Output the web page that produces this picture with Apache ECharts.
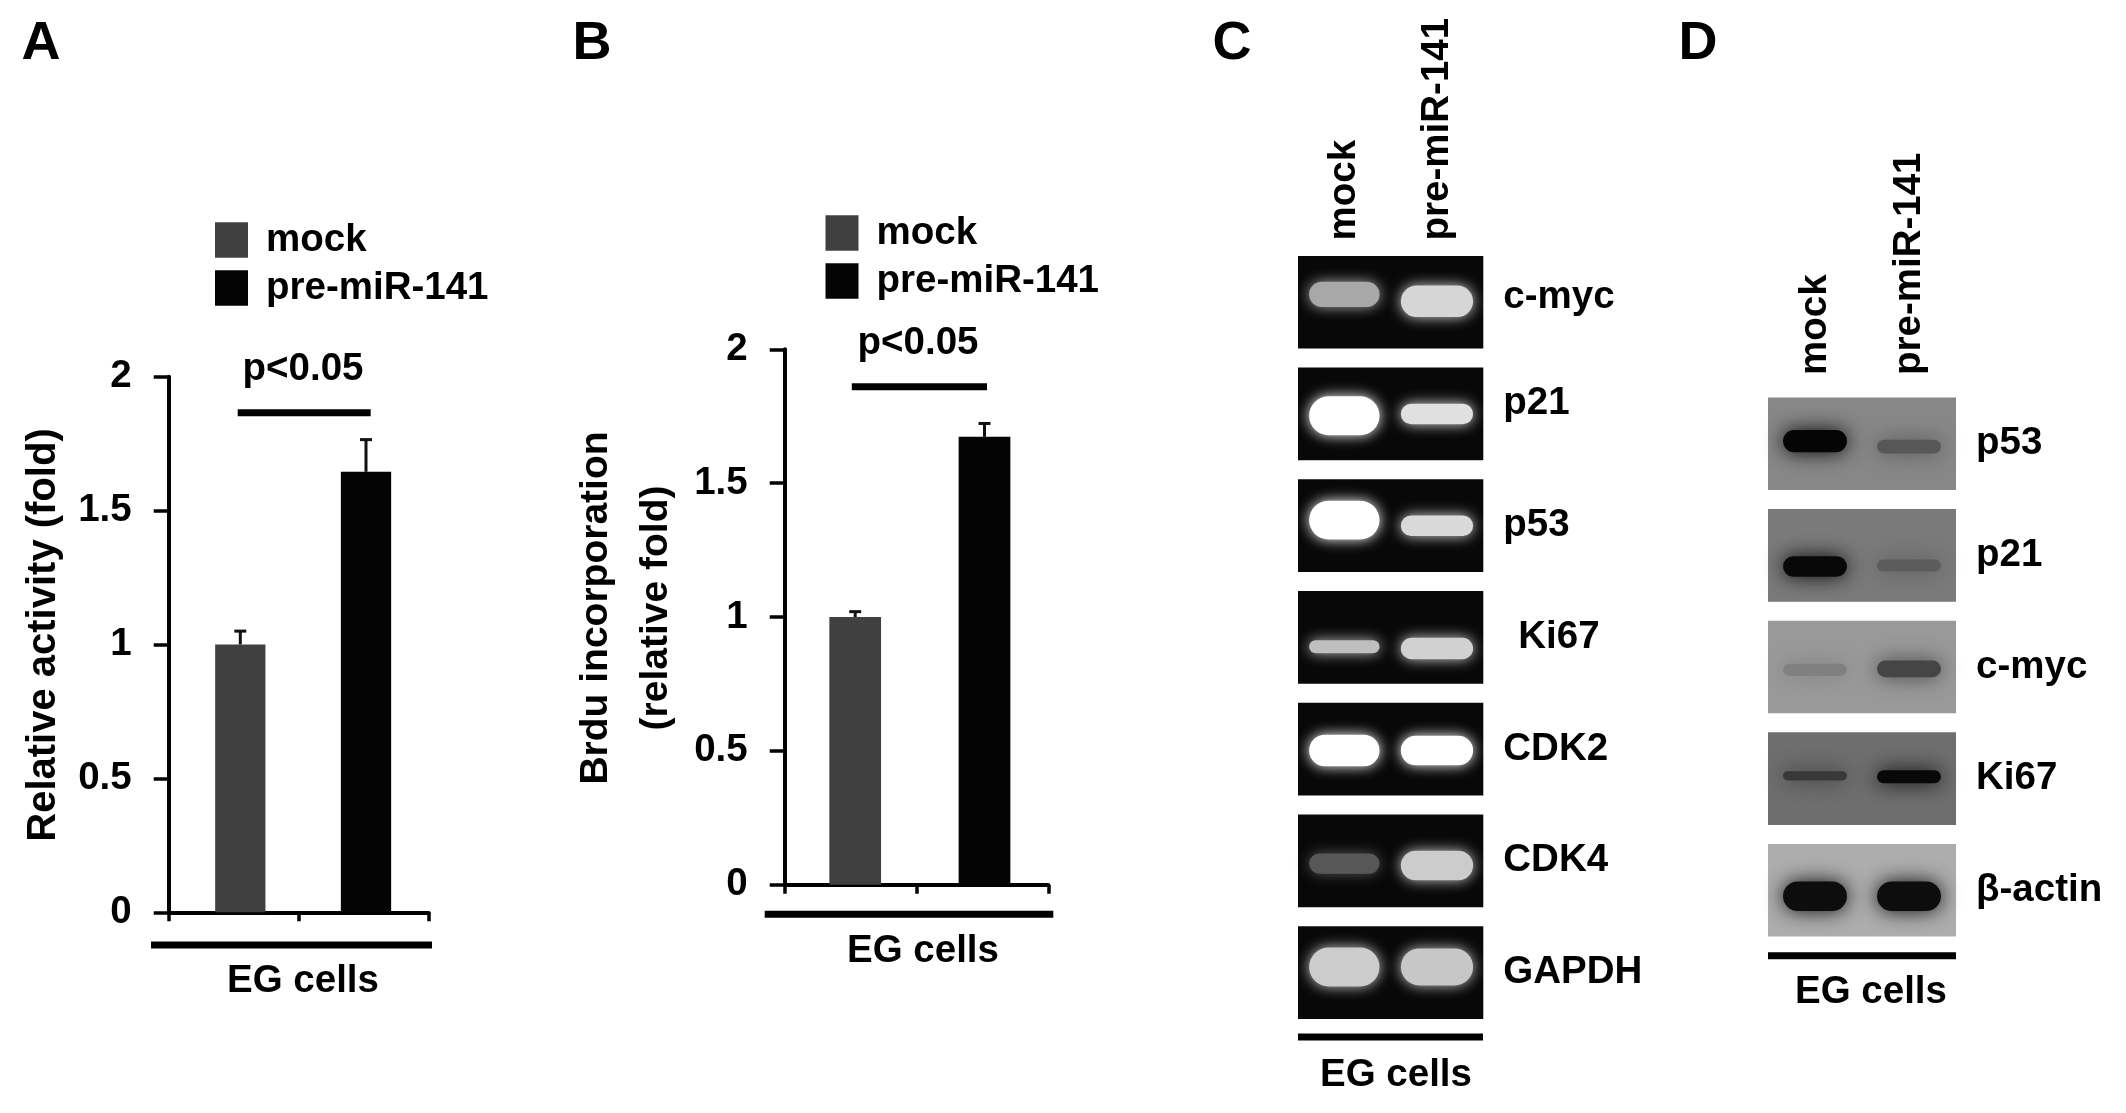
<!DOCTYPE html>
<html><head><meta charset="utf-8">
<style>html,body{margin:0;padding:0;background:#fff}#c{width:2126px;height:1113px}</style>
<script src="https://cdn.jsdelivr.net/npm/echarts@6/dist/echarts.min.js"></script>
</head><body><div id="c"></div>
<script>
// ---- data ----
const groups = ['mock', 'pre-miR-141'];
const yTicksMax = 2;
const activityMean = [1.0, 1.645];
const activityTop  = [1.05, 1.765];
const brduMean = [1.0, 1.673];
const brduTop  = [1.02, 1.723];

const genesC = ['c-myc','p21','p53','Ki67','CDK2','CDK4','GAPDH'];
const signalCmock = [0.66, 1.00, 1.00, 0.75, 1.00, 0.34, 0.80];
const signalCpre  = [0.84, 0.88, 0.85, 0.82, 1.00, 0.80, 0.78];
const bandCmock   = [0.27, 0.42, 0.42, 0.14, 0.34, 0.22, 0.42];
const bandCpre    = [0.34, 0.22, 0.22, 0.23, 0.32, 0.32, 0.40];
const driftCmock  = [-0.085, 0.02, -0.06, 0.10, 0.015, 0.03, -0.06];
const driftCpre   = [-0.01, 0.00, 0.00, 0.12, 0.015, 0.05, -0.06];

const genesD = ['p53','p21','c-myc','Ki67','β-actin'];
const signalDmock = [0.02, 0.03, 0.50, 0.22, 0.05];
const signalDpre  = [0.34, 0.36, 0.27, 0.03, 0.05];
const bandDmock   = [0.24, 0.22, 0.13, 0.10, 0.32];
const bandDpre    = [0.15, 0.13, 0.18, 0.14, 0.32];
const driftDmock  = [-0.03, 0.12, 0.03, -0.03, 0.065];
const driftDpre   = [0.03, 0.11, 0.02, -0.02, 0.065];
const backgroundD = [0.53, 0.48, 0.60, 0.43, 0.68];

// ---- styling ----
const FONT = 'Liberation Sans';
const font = (s) => `bold ${s}px "${FONT}"`;
const TS = 38.5;
const gray = (v) => { const g = Math.round(v * 255); return `rgb(${g},${g},${g})`; };

function barPair(ix, means) {
  return [
    { name:'mock', type:'bar', xAxisIndex:ix, yAxisIndex:ix, stack:'p'+ix, barWidth:'40%', itemStyle:{color:'#404040'}, data:[means[0], null] },
    { name:'pre-miR-141', type:'bar', xAxisIndex:ix, yAxisIndex:ix, stack:'p'+ix, barWidth:'40%', itemStyle:{color:'#040404'}, data:[null, means[1]] }
  ];
}
function errorSeries(ix, means, tops) {
  return {
    type:'custom', xAxisIndex:ix, yAxisIndex:ix, silent:true, z:1,
    data: means.map((m,i)=>[i,m,tops[i]]),
    encode:{x:0,y:[1,2]},
    renderItem(params, api) {
      const a = api.coord([api.value(0), api.value(1)]);
      const b = api.coord([api.value(0), api.value(2)]);
      const st = {stroke:'#111', lineWidth:3, fill:null};
      return {type:'group', children:[
        {type:'line', shape:{x1:a[0],y1:a[1],x2:b[0],y2:b[1]}, style:st},
        {type:'line', shape:{x1:b[0]-6,y1:b[1],x2:b[0]+6,y2:b[1]}, style:st}
      ]};
    }
  };
}
function blotBackground(ix, genes, levels) {
  return {
    type:'custom', xAxisIndex:ix, yAxisIndex:ix, silent:true, z:1,
    data: genes.map((g,i)=>[0,i,levels[i]]),
    encode:{x:0,y:1},
    renderItem(params, api) {
      const cs = params.coordSys;
      const c = api.coord([0, api.value(1)]);
      const h = api.size([0,1])[1] * 0.83;
      return {type:'rect', shape:{x:cs.x, y:c[1]-h/2, width:cs.width, height:h}, style:{fill:gray(api.value(2))}};
    }
  };
}
function blotBands(ix, genes, signal, thick, drift, lane, widthFrac, blur) {
  return {
    type:'custom', xAxisIndex:ix, yAxisIndex:ix, silent:true, z:2,
    data: genes.map((g,i)=>[lane,i,signal[i],thick[i],drift[i]]),
    encode:{x:0,y:1},
    renderItem(params, api) {
      const c = api.coord([api.value(0), api.value(1)]);
      const sz = api.size([1,1]);
      const blotH = sz[1]*0.83;
      const w = sz[0]*widthFrac;
      const h = blotH*api.value(3);
      const cy = c[1] + blotH*api.value(4);
      const col = gray(api.value(2));
      return {type:'rect',
        shape:{x:c[0]-w/2, y:cy-h/2, width:w, height:h, r:h/2},
        style:{fill:col, shadowColor:col, shadowBlur:blur}};
    }
  };
}

const barX = (ix)=>({type:'category', gridIndex:ix, data:groups,
  axisLine:{lineStyle:{color:'#000',width:4}}, axisTick:{show:true,length:9,lineStyle:{color:'#000',width:3.5}}, axisLabel:{show:false}});
const barY = (ix,name,gap,size,pad)=>({type:'value', gridIndex:ix, min:0, max:yTicksMax, interval:0.5, splitLine:{show:false},
  name:name, nameLocation:'middle', nameGap:gap, nameRotate:90,
  nameTextStyle:{fontFamily:FONT, fontWeight:'bold', fontSize:size, color:'#000', lineHeight:60, padding:pad},
  axisLine:{show:true,lineStyle:{color:'#000',width:4}}, axisTick:{show:true,length:15,lineStyle:{color:'#000',width:3.5}},
  axisLabel:{fontFamily:FONT,fontWeight:'bold',fontSize:TS,color:'#000',margin:37}});
const hiddenX = (ix)=>({type:'category', gridIndex:ix, data:groups, show:false});
const hiddenY = (ix)=>({type:'value', gridIndex:ix, min:0, max:yTicksMax, show:false, splitLine:{show:false}});
const blotX = (ix,margin)=>({type:'category', gridIndex:ix, position:'top', data:groups,
  axisLine:{show:false}, axisTick:{show:false},
  axisLabel:{rotate:-90, margin, fontFamily:FONT,fontWeight:'bold',fontSize:TS,color:'#000', interval:0}});
const blotY = (ix,labels)=>({type:'category', gridIndex:ix, position:'right', inverse:true, data:labels,
  axisLine:{show:false}, axisTick:{show:false},
  axisLabel:{margin:20, fontFamily:FONT,fontWeight:'bold',fontSize:TS,color:'#000', interval:0}});

const legend = (left,top)=>({orient:'vertical', left, top, padding:0, itemWidth:33, itemHeight:35.5, itemGap:9, selectedMode:false,
  icon:'rect', data:groups, textStyle:{fontFamily:FONT,fontWeight:'bold',fontSize:TS,color:'#000',padding:[0,0,0,13]}});

const txt = (t,x,y,size)=>({type:'text', silent:true, style:{text:t,x,y,font:font(size||TS),fill:'#000',textAlign:'center',textVerticalAlign:'middle'}});
const rule = (x1,x2,y)=>({type:'line', silent:true, shape:{x1,y1:y,x2,y2:y}, style:{stroke:'#000',lineWidth:7}});

const labelsC = genesC.map(g=> g==='Ki67' ? {value:g,textStyle:{padding:[0,0,0,15]}}
                            : g==='p21' ? {value:g,textStyle:{verticalAlign:'bottom',padding:[0,0,-9,0]}}
                            : g==='c-myc' ? {value:g,textStyle:{verticalAlign:'bottom',padding:[0,0,-15,0]}} : g);

const option = {
  animation:false, backgroundColor:'#fff',
  textStyle:{fontFamily:FONT},
  grid:[
    {left:168.7, top:376.7, width:260, height:535.6},
    {left:784.7, top:349.3, width:263.6, height:535.4},
    {left:1298, top:246.4, width:185.3, height:782},
    {left:1768, top:388, width:188, height:558},
    {left:177.45, top:376.7, width:251.4, height:535.6},
    {left:790.55, top:349.3, width:258.6, height:535.4}
  ],
  xAxis:[barX(0),barX(1),blotX(2,6),blotX(3,13),hiddenX(4),hiddenX(5)],
  yAxis:[barY(0,'Relative activity (fold)',95,40,[0,0,0,19]),barY(1,'Brdu incorporation\n(relative fold)',98,39,[0,0,0,18]),blotY(2,labelsC),blotY(3,genesD),hiddenY(4),hiddenY(5)],
  legend:[legend(215,220.5),legend(825.5,213.5)],
  series:[
    ...barPair(4,activityMean),
    errorSeries(4,activityMean,activityTop),
    ...barPair(5,brduMean),
    errorSeries(5,brduMean,brduTop),
    blotBackground(2,genesC,genesC.map(()=>0.03)),
    blotBands(2,genesC,signalCmock,bandCmock,driftCmock,0,0.76,14),
    blotBands(2,genesC,signalCpre,bandCpre,driftCpre,1,0.78,14),
    blotBackground(3,genesD,backgroundD),
    blotBands(3,genesD,signalDmock,bandDmock,driftDmock,0,0.68,20),
    blotBands(3,genesD,signalDpre,bandDpre,driftDpre,1,0.68,20)
  ],
  graphic:[
    txt('A',41,44,54),txt('B',592,44,54),txt('C',1232,44,54),txt('D',1698,44,54),
    txt('p<0.05',303,369),rule(237.7,370.7,412.7),rule(151,432,945),txt('EG cells',303,981),
    txt('p<0.05',918,343),rule(851.8,987,386.7),rule(764.7,1053.3,914.3),txt('EG cells',923,951),
    rule(1298,1483,1037),txt('EG cells',1396,1075),
    rule(1768,1956,955.7),txt('EG cells',1871,992)
  ]
};
echarts.init(document.getElementById('c')).setOption(option);
</script></body></html>
